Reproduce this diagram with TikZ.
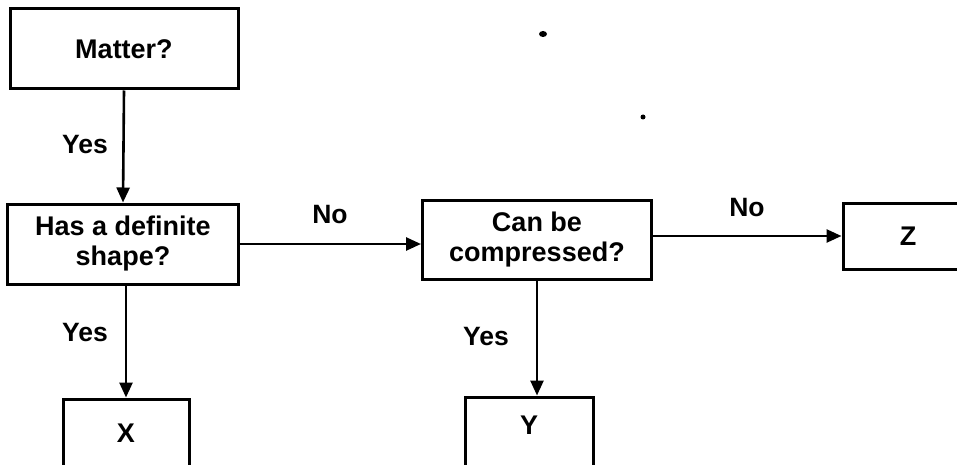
\documentclass[tikz,border=0pt]{standalone}
\usepackage{fontspec}
\setmainfont{Liberation Sans}
\usetikzlibrary{arrows.meta}
\begin{document}
\begin{tikzpicture}[x=1pt,y=-1pt,
  box/.style={draw=black, line width=3pt, inner sep=0pt, align=center,
    font=\fontsize{27}{30}\selectfont\bfseries},
  lbl/.style={inner sep=0pt, font=\fontsize{26.5}{29}\selectfont\bfseries},
  conn/.style={draw=black, line width=2.6pt, -{Triangle[length=15pt,width=13pt]}},
  speck/.style={fill=black}]
\useasboundingbox (0,0) rectangle (957,465);
\node[box, minimum width=228pt, minimum height=80pt] (matter) at (124,49) {Matter?};
\node[box, minimum width=231pt, minimum height=80pt] (has) at (123,244) {Has a definite\\shape?};
\node[box, minimum width=126pt, minimum height=80pt] (x) at (126,439) {\raisebox{12pt}{X}};
\node[box, minimum width=229pt, minimum height=79pt] (can) at (537,240) {Can be\\compressed?};
\node[box, minimum width=128pt, minimum height=80pt] (y) at (529,437) {\raisebox{23pt}{Y}};
\node[box, minimum width=130pt, minimum height=66pt] (z) at (908,236) {Z};
\draw[conn] (matter.south) -- (has.north);
\draw[conn] (has.south -| x.north) -- (x.north);
\draw[conn] (has.east) -- (has.east -| can.west);
\draw[conn] (can.east |- z.west) -- (z.west);
\draw[conn] (can.south) -- (can.south |- y.north);
\node[lbl] (yes1) at (85,145) {Yes};
\node[lbl] (yes2) at (85,333) {Yes};
\node[lbl] (no1) at (330,215) {No};
\node[lbl] (yes3) at (486,337) {Yes};
\node[lbl] (no2) at (747,208) {No};
\fill[speck] (543,34) ellipse (4pt and 3pt);
\fill[speck] (643,117) circle (2.5pt);
\end{tikzpicture}
\end{document}
